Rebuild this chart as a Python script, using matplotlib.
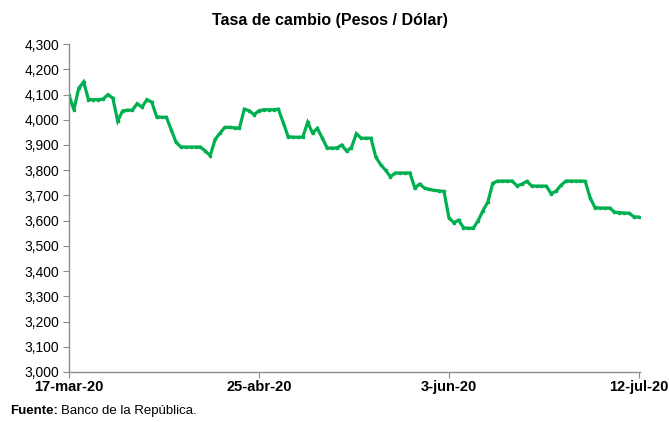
import matplotlib
matplotlib.use("Agg")
import matplotlib.pyplot as plt
from matplotlib.ticker import FuncFormatter

# daily exchange rate, 17-mar-20 .. 12-jul-20 (118 days)
tasa = [4098, 4040, 4125, 4150, 4080, 4080, 4080, 4082, 4100, 4086,
        3995, 4035, 4038, 4038, 4064, 4050, 4080, 4070, 4012, 4010,
        4010, 3960, 3910, 3892, 3892, 3892, 3892, 3892, 3876, 3858,
        3922, 3947, 3970, 3970, 3968, 3967, 4042, 4036, 4020, 4036,
        4040, 4040, 4040, 4042, 3988, 3933, 3931, 3931, 3931, 3990,
        3948, 3966, 3928, 3888, 3888, 3888, 3900, 3876, 3890, 3945,
        3927, 3927, 3927, 3852, 3822, 3800, 3774, 3789, 3789, 3789,
        3789, 3730, 3745, 3729, 3724, 3720, 3718, 3716, 3612, 3592,
        3602, 3572, 3570, 3570, 3600, 3640, 3674, 3748, 3757, 3757,
        3757, 3757, 3738, 3745, 3756, 3738, 3737, 3737, 3737, 3707,
        3717, 3740, 3757, 3757, 3757, 3757, 3756, 3690, 3652, 3650,
        3650, 3650, 3634, 3632, 3630, 3630, 3615, 3614]
tick_pos = [0, 39, 78, 117]
tick_labels = ["17-mar-20", "25-abr-20", "3-jun-20", "12-jul-20"]
y_ticks = list(range(3000, 4301, 100))

plt.rcParams["font.family"] = ["Liberation Sans", "DejaVu Sans"]

fig = plt.figure(figsize=(6.69, 4.22), dpi=100)
ax = fig.add_axes([0.1031, 0.1185, 0.854, 0.777])

ax.plot(range(len(tasa)), tasa, color="#00B050", lw=2.3,
        marker="s", ms=1.6, solid_joinstyle="miter")

ax.set_xlim(0, 117.3)
ax.set_ylim(3000, 4300)
ax.set_yticks(y_ticks)
ax.yaxis.set_major_formatter(FuncFormatter(lambda v, p: f"{int(v):,}"))
ax.set_xticks(tick_pos)
ax.set_xticklabels(tick_labels, fontweight="bold", fontsize=10.5)

for s in ["top", "right"]:
    ax.spines[s].set_visible(False)
for s in ["left", "bottom"]:
    ax.spines[s].set_color("#8c8c8c")
    ax.spines[s].set_linewidth(1.0)
ax.tick_params(axis="y", direction="out", length=4, color="#8c8c8c",
               labelsize=10, pad=3)
ax.tick_params(axis="x", direction="out", length=4, color="#8c8c8c", pad=2)

fig.text(330 / 669, 1 - 20 / 422, "Tasa de cambio (Pesos / Dólar)",
         ha="center", va="center", fontsize=11.5, fontweight="bold")
src = fig.text(10 / 669, 1 - 411 / 422, "Fuente:", ha="left", va="center",
               fontsize=9.5, fontweight="bold")
fig.canvas.draw()
bb = src.get_window_extent(fig.canvas.get_renderer())
fig.text((bb.x1 + 3) / 669, 1 - 411 / 422, "Banco de la República.",
         ha="left", va="center", fontsize=9.5)

fig.savefig("out.png", dpi=100)
